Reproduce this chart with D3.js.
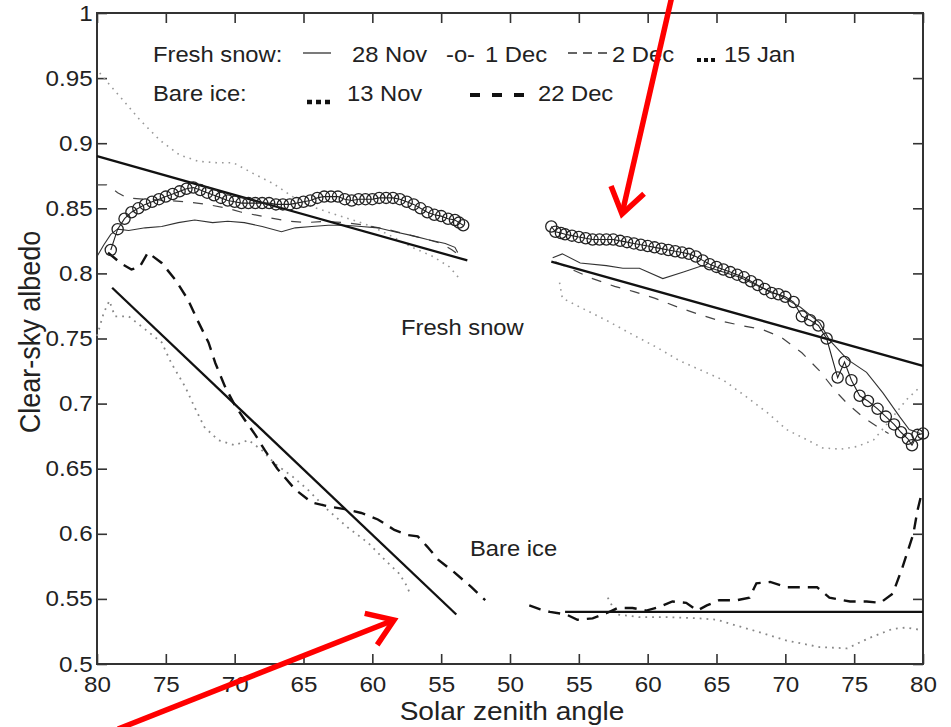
<!DOCTYPE html>
<html>
<head>
<meta charset="utf-8">
<style>
  body { margin: 0; background: #fff; }
  svg text { font-family: "Liberation Sans", Arial, Helvetica, sans-serif; fill: #222; }
</style>
</head>
<body>
<svg id="chart" width="951" height="727"></svg>
<script src="https://cdn.jsdelivr.net/npm/d3@7/dist/d3.min.js"></script>
<script>
// x axis runs 80 -> 50 (morning, "am") then 50 -> 80 (afternoon, "pm")
const xTicks = d3.range(0, 61, 5);
const yTicks = d3.range(0.5, 1.001, 0.05);

// [solar zenith angle, clear-sky albedo]
// fresh snow, 28 Nov (thin solid)
const nov28Am = [[80,0.813],[79.5,0.822],[79,0.830],[78.5,0.834],[77.7,0.833],[76.5,0.835],[75.3,0.836],[74.1,0.839],
  [72.9,0.841],[71.6,0.839],[70.5,0.840],[69.3,0.839],[68.0,0.836],[66.6,0.832],[65.6,0.835],[64.4,0.836],[63.2,0.837],
  [62.0,0.837],[60.8,0.836],[59.6,0.835],[58.4,0.832],[57.1,0.829],[56.0,0.826],[54.7,0.823],[54.0,0.820],[53.8,0.816]];
const nov28Pm = [[53.1,0.812],[53.8,0.815],[55.1,0.808],[57.0,0.806],[58.2,0.804],[59.4,0.804],[61.1,0.796],[62.6,0.801],
  [64.0,0.806],[65.2,0.802],[66.7,0.797],[68.1,0.790],[69.6,0.783],[71.1,0.774],[72.5,0.762],[73.2,0.749],[74.5,0.734],
  [75.9,0.724],[77.1,0.708],[78.3,0.690],[79.0,0.680],[79.8,0.677]];

// fresh snow, 1 Dec (line with open circles)
const dec1Am = [[79,0.818],[78.5,0.834],[78,0.842],[77.5,0.847],[77,0.850],[76.5,0.853],[76,0.855],[75.5,0.857],
  [75,0.859],[74.5,0.861],[74,0.863],[73.5,0.865],[73,0.866],[72.5,0.864],[72,0.862],[71.5,0.860],[71,0.858],
  [70.5,0.856],[70,0.855],[69.5,0.854],[69,0.854],[68.5,0.854],[68,0.854],[67.5,0.854],[67,0.853],[66.5,0.853],
  [66,0.853],[65.5,0.854],[65,0.855],[64.5,0.856],[64,0.858],[63.5,0.859],[63,0.859],[62.5,0.859],[62,0.857],
  [61.5,0.856],[61,0.857],[60.5,0.857],[60,0.857],[59.5,0.858],[59,0.858],[58.5,0.858],[58,0.857],[57.5,0.855],
  [57,0.853],[56.5,0.850],[56,0.847],[55.5,0.845],[55,0.844],[54.5,0.842],[54,0.841],[53.7,0.839],[53.4,0.837]];
const dec1Pm = [[53.0,0.836],[53.3,0.832],[53.7,0.831],[54,0.830],[54.5,0.829],[55,0.828],[55.5,0.827],[56,0.826],
  [56.5,0.826],[57,0.826],[57.5,0.826],[58,0.825],[58.5,0.824],[59,0.823],[59.5,0.822],[60,0.821],[60.5,0.820],
  [61,0.819],[61.5,0.818],[62,0.817],[62.5,0.816],[63,0.815],[63.5,0.813],[64,0.810],[64.5,0.807],[65,0.805],
  [65.5,0.803],[66,0.801],[66.5,0.799],[67,0.797],[67.5,0.794],[68,0.791],[68.5,0.788],[69,0.785],[69.5,0.784],
  [70,0.782],[70.6,0.778],[71.2,0.767],[71.8,0.764],[72.4,0.760],[73.0,0.750],[73.8,0.720],[74.3,0.732],
  [74.8,0.718],[75.4,0.706],[76.0,0.702],[76.7,0.696],[77.3,0.690],[77.9,0.684],[78.4,0.678],[78.9,0.673],
  [79.2,0.668],[79.6,0.676],[80,0.677]];

// fresh snow, 2 Dec (thin dashed)
const dec2Am = [[80,0.868],[79.3,0.868],[78.5,0.862],[77.8,0.858],[76.5,0.857],[75,0.856],[73.5,0.855],[72,0.853],
  [70.5,0.850],[69.5,0.847],[67.6,0.843],[66,0.840],[64.8,0.839],[63.5,0.840],[62,0.839],[60.5,0.837],[59,0.834],
  [57.5,0.830],[56,0.826],[55,0.823],[54.2,0.818],[53.8,0.815]];
const dec2Pm = [[53.3,0.809],[54.5,0.803],[56,0.796],[57.6,0.790],[59,0.786],[60.5,0.781],[62.2,0.774],[63.6,0.769],
  [65.1,0.764],[66.8,0.760],[68.3,0.757],[69.7,0.751],[71.2,0.739],[72.5,0.725],[73.7,0.709],[74.5,0.700],
  [75.6,0.690],[77,0.680],[77.5,0.677]];

// fresh snow, 15 Jan (light dotted)
const jan15Am = [[79.8,0.954],[79.1,0.945],[78.1,0.933],[76.9,0.918],[75.4,0.902],[74.0,0.891],[72.6,0.886],
  [71.3,0.885],[70.1,0.885],[68.7,0.877],[67.2,0.869],[65.8,0.859],[64.3,0.851],[62.9,0.846],[61.4,0.841],
  [60.0,0.836],[58.5,0.828],[57.1,0.820],[55.6,0.813],[54.4,0.805],[53.6,0.795]];
const jan15Pm = [[53.6,0.793],[53.8,0.781],[55.1,0.774],[57.0,0.764],[58.9,0.753],[60.7,0.743],[62.3,0.733],
  [63.8,0.726],[65.5,0.718],[67.2,0.705],[68.7,0.693],[70.1,0.680],[71.6,0.672],[72.7,0.666],[74.0,0.665],
  [75.2,0.667],[76.4,0.672],[77.6,0.687],[78.8,0.703],[79.8,0.713]];

// bare ice, 13 Nov (dotted)
const nov13Am = [[80,0.752],[79.5,0.770],[79.1,0.779],[78.7,0.767],[77.7,0.767],[76.5,0.757],[75.3,0.747],
  [74.6,0.731],[73.6,0.713],[72.9,0.697],[72.2,0.682],[71.2,0.672],[70.0,0.668],[69.0,0.672],[68.0,0.664],
  [67.1,0.654],[65.8,0.644],[64.7,0.634],[63.2,0.618],[61.8,0.605],[60.3,0.593],[59.1,0.580],[58.1,0.570],
  [57.6,0.562],[57.3,0.555]];
const nov13Pm = [[57.1,0.551],[57.5,0.543],[57.8,0.538],[59.4,0.536],[61.4,0.536],[63.8,0.535],[65.0,0.534],
  [67.6,0.526],[70.1,0.518],[72.5,0.513],[74.5,0.512],[76.1,0.520],[77.8,0.527],[78.8,0.528],[79.9,0.526]];

// bare ice, 22 Dec (thick dashed)
const dec22Am = [[79.2,0.816],[78.3,0.808],[77.5,0.803],[76.9,0.805],[76.3,0.816],[75.3,0.808],[74.3,0.795],
  [73.4,0.780],[72.7,0.764],[71.9,0.747],[71.4,0.731],[70.7,0.713],[70.0,0.699],[69.3,0.688],[68.5,0.676],
  [67.8,0.664],[66.9,0.650],[65.6,0.634],[64.4,0.624],[63.2,0.621],[62.0,0.619],[60.8,0.616],[59.6,0.611],
  [58.4,0.603],[57.4,0.599],[56.7,0.598],[56.0,0.590],[55.2,0.580],[54.0,0.570],[52.8,0.559],[51.8,0.549]];
const dec22Pm = [[51.4,0.545],[52.2,0.542],[52.9,0.540],[54.1,0.538],[54.9,0.534],[56.0,0.535],[57.0,0.539],
  [57.8,0.543],[58.9,0.543],[59.9,0.541],[60.9,0.544],[61.8,0.548],[62.8,0.547],[63.6,0.541],[64.3,0.545],
  [65.2,0.549],[66.5,0.549],[67.4,0.551],[67.9,0.562],[68.9,0.563],[70.1,0.559],[71.1,0.559],[72.3,0.559],
  [73.2,0.551],[74.7,0.548],[75.9,0.548],[76.9,0.547],[77.8,0.554],[78.5,0.574],[79.3,0.600],[79.6,0.618],
  [79.9,0.631]];

// linear fits (end points)
const snowFitAm = [[80,0.890],[53.1,0.810]];
const snowFitPm = [[53.0,0.809],[80,0.729]];
const iceFitAm = [[78.9,0.789],[53.9,0.538]];
const iceFitPm = [[54.0,0.540],[80,0.540]];

const styles = {
  fit:   { stroke: "#111", width: 2.3, dash: null },
  nov28: { stroke: "#333", width: 1.1, dash: null },
  dec1:  { stroke: "#222", width: 1.1, dash: null },
  dec2:  { stroke: "#444", width: 1.2, dash: "10,10" },
  jan15: { stroke: "#999", width: 1.6, dash: "1.6,5" },
  nov13: { stroke: "#888", width: 1.8, dash: "1.8,5" },
  dec22: { stroke: "#111", width: 2.4, dash: "12,8" }
};

const series = [
  { data: [jan15Am, jan15Pm], style: styles.jan15 },
  { data: [nov13Am, nov13Pm], style: styles.nov13 },
  { data: [dec2Am, dec2Pm], style: styles.dec2 },
  { data: [nov28Am, nov28Pm], style: styles.nov28 },
  { data: [dec22Am, dec22Pm], style: styles.dec22 },
  { data: [snowFitAm, snowFitPm, iceFitAm, iceFitPm], style: styles.fit },
  { data: [dec1Am, dec1Pm], style: styles.dec1, circles: true }
];

const svg = d3.select("#chart");
const margin = { left: 97, right: 28, top: 13, bottom: 63 };
const W = 951, H = 727;
const SX = 1.1; // the original figure is a bit wider than tall, text included

const x = d3.scaleLinear().domain([0, 60]).range([margin.left, W - margin.right]);
const y = d3.scaleLinear().domain([0.5, 1]).range([H - margin.bottom, margin.top]);

// am: 80 at the left edge down to 50 in the middle; pm: 50 back up to 80
function xOf(side, sza) { return x(side === "am" ? 80 - sza : sza - 20); }
const xLabel = t => t <= 30 ? 80 - t : t + 20;
const yLabel = v => String(+v.toFixed(2));

const line = side => d3.line().x(d => xOf(side, d[0])).y(d => y(d[1]));

// axes (ticks inward, all four sides)
const axisStyle = g => {
  g.select(".domain").remove();
  g.selectAll(".tick line").attr("stroke", "#333").attr("stroke-width", 1.6);
  g.selectAll(".tick text").style("font-size", "22px").attr("fill", "#222")
    .attr("transform", `scale(${SX},1)`);
};
svg.append("g").attr("transform", `translate(0,${y(0.5)})`)
  .call(d3.axisBottom(x).tickValues(xTicks).tickFormat(xLabel).tickSize(-10).tickPadding(12))
  .call(axisStyle);
svg.append("g").attr("transform", `translate(0,${y(1)})`)
  .call(d3.axisTop(x).tickValues(xTicks).tickFormat("").tickSize(-10))
  .call(axisStyle);
svg.append("g").attr("transform", `translate(${x(0)},0)`)
  .call(d3.axisLeft(y).tickValues(yTicks).tickFormat(yLabel).tickSize(-10).tickPadding(4))
  .call(axisStyle);
svg.append("g").attr("transform", `translate(${x(60)},0)`)
  .call(d3.axisRight(y).tickValues(yTicks).tickFormat("").tickSize(-10))
  .call(axisStyle);

svg.append("rect")
  .attr("x", x(0)).attr("y", y(1))
  .attr("width", x(60) - x(0)).attr("height", y(0.5) - y(1))
  .attr("fill", "none").attr("stroke", "#333").attr("stroke-width", 2);

// series
series.forEach(s => {
  s.data.forEach((d, i) => {
    const side = i % 2 === 0 ? "am" : "pm";
    svg.append("path").datum(d)
      .attr("d", line(side))
      .attr("fill", "none")
      .attr("stroke", s.style.stroke)
      .attr("stroke-width", s.style.width)
      .attr("stroke-dasharray", s.style.dash);
    if (s.circles) {
      svg.append("g").selectAll("circle").data(d).join("circle")
        .attr("cx", p => xOf(side, p[0])).attr("cy", p => y(p[1]))
        .attr("r", 5.6)
        .attr("fill", "none").attr("stroke", "#222").attr("stroke-width", 1.3);
    }
  });
});

// text helper, stretched horizontally like the original
function label(px, py, txt, size, anchor) {
  svg.append("text")
    .attr("transform", `translate(${px},${py}) scale(1.08,1)`)
    .attr("text-anchor", anchor || "start")
    .style("font-size", size + "px")
    .text(txt);
}

// axis titles
label(x(30) + 2, 720, "Solar zenith angle", 26, "middle");
svg.append("text").attr("transform", `translate(40,332) scale(${SX},1) rotate(-90)`)
  .attr("text-anchor", "middle").style("font-size", "27px").text("Clear-sky albedo");

// legend
label(153, 62, "Fresh snow:", 22);
svg.append("line").attr("x1", 303).attr("x2", 331).attr("y1", 53).attr("y2", 53)
  .attr("stroke", "#333").attr("stroke-width", 1.3);
label(352, 62, "28 Nov", 22);
label(446, 62, "-o-", 22);
label(485, 62, "1 Dec", 22);
svg.append("line").attr("x1", 568).attr("x2", 607).attr("y1", 53).attr("y2", 53)
  .attr("stroke", "#333").attr("stroke-width", 1.3).attr("stroke-dasharray", "9,6");
label(612, 62, "2 Dec", 22);
svg.append("line").attr("x1", 697).attr("x2", 716).attr("y1", 60).attr("y2", 60)
  .attr("stroke", "#111").attr("stroke-width", 4).attr("stroke-dasharray", "4,3");
label(724, 62, "15 Jan", 22);
label(153, 101, "Bare ice:", 22);
svg.append("line").attr("x1", 307).attr("x2", 334).attr("y1", 102).attr("y2", 102)
  .attr("stroke", "#111").attr("stroke-width", 4.5).attr("stroke-dasharray", "5,4");
label(347, 101, "13 Nov", 22);
svg.append("line").attr("x1", 470).attr("x2", 526).attr("y1", 95).attr("y2", 95)
  .attr("stroke", "#111").attr("stroke-width", 4).attr("stroke-dasharray", "10,12");
label(538, 101, "22 Dec", 22);

// region labels
label(401, 335, "Fresh snow", 22);
label(470, 556, "Bare ice", 22);

// red annotation arrows drawn over the figure
const arrows = [
  { from: [672, -4], to: [622, 214] },
  { from: [118, 729], to: [394, 620] }
];
arrows.forEach(a => {
  const ang = Math.atan2(a.from[1] - a.to[1], a.from[0] - a.to[0]);
  const len = 30, spread = 0.6;
  const w1 = [a.to[0] + len * Math.cos(ang - spread), a.to[1] + len * Math.sin(ang - spread)];
  const w2 = [a.to[0] + len * Math.cos(ang + spread), a.to[1] + len * Math.sin(ang + spread)];
  svg.append("line").attr("x1", a.from[0]).attr("y1", a.from[1]).attr("x2", a.to[0]).attr("y2", a.to[1])
    .attr("stroke", "#f00").attr("stroke-width", 5.5);
  svg.append("path").attr("d", d3.line()([w1, a.to, w2]))
    .attr("fill", "none").attr("stroke", "#f00").attr("stroke-width", 5.5)
    .attr("stroke-linejoin", "miter");
});
</script>
</body>
</html>
